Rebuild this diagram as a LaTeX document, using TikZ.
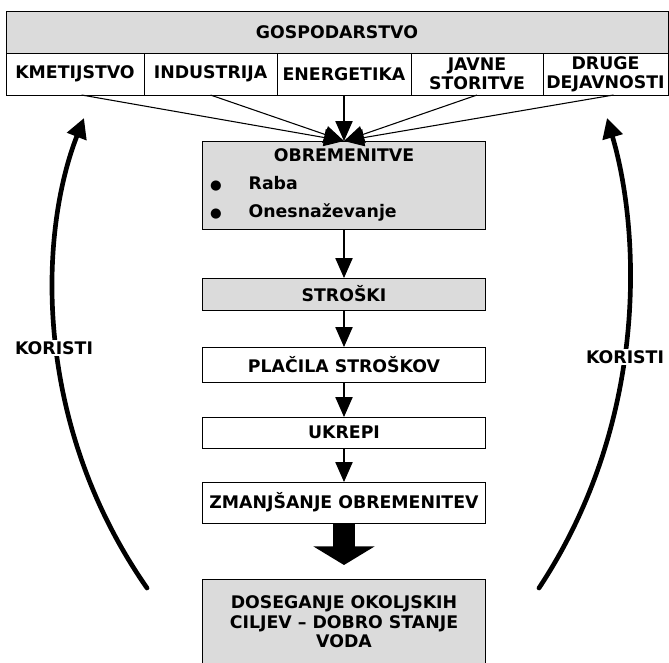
\documentclass[tikz,border=0pt]{standalone}
\usepackage{xcolor}
\usepackage{fontspec}
\setmainfont{DejaVu Sans}
\usepackage{tikz}
\usetikzlibrary{positioning,arrows.meta}
\setlength{\parindent}{0pt}

\tikzset{
  cell/.style={draw, line width=0.7pt, inner sep=0pt, outer sep=0pt, align=center,
    font=\fontsize{13}{14.5}\selectfont\bfseries, minimum height=31.5pt},
  grey/.style={cell, fill=black!14},
  chain/.style={minimum width=212.25pt},
  link/.style={line width=0.8pt, -{Triangle[length=15pt,width=13pt]}},
  benefit/.style={line width=3.5pt, line cap=round, -{Triangle[length=15pt,width=15pt]}},
  gain/.style={fill=white, inner sep=1pt, font=\fontsize{13}{14.5}\selectfont\bfseries},
}

\begin{document}
\begin{tikzpicture}[x=0.75pt, y=-0.75pt]
    \useasboundingbox (0,0) rectangle (669,662);

    \node[grey, minimum width=496.5pt] (gosp) at (337,32) {GOSPODARSTVO};
    \node[cell, minimum width=103.5pt, below right=0pt and 0pt of gosp.south west] (kmet) {KMETIJSTVO};
    \node[cell, minimum width=99.75pt, right=0pt of kmet] (ind) {INDUSTRIJA};
    \node[cell, minimum width=100.5pt, right=0pt of ind] (ener) {ENERGETIKA};
    \node[cell, minimum width=99pt, right=0pt of ener] (javne) {JAVNE\\STORITVE};
    \node[cell, minimum width=93.75pt, right=0pt of javne] (druge) {DRUGE\\DEJAVNOSTI};

    \node[grey, chain, minimum height=66pt, text width=201pt, inner xsep=5.6pt, align=left,
      font=\fontsize{13}{21}\selectfont\bfseries, below=34.5pt of ener] (obr)
      {{\centering OBREMENITVE\par}
       \makebox[29pt][l]{\fontsize{10}{10}\selectfont ●}Raba\\
       \makebox[29pt][l]{\fontsize{10}{10}\selectfont ●}Onesnaževanje};
    \node[grey, chain, minimum height=24pt, below=36.75pt of obr] (stro) {STROŠKI};
    \node[cell, chain, minimum height=26.25pt, below=27.75pt of stro] (plac) {PLAČILA STROŠKOV};
    \node[cell, chain, minimum height=23.25pt, below=26.25pt of plac] (ukrepi) {UKREPI};
    \node[cell, chain, minimum height=30.75pt, below=25.5pt of ukrepi] (zmanj) {ZMANJŠANJE OBREMENITEV};
    \node[grey, chain, minimum height=64.5pt, below=42pt of zmanj] (dos)
      {DOSEGANJE OKOLJSKIH\\CILJEV -- DOBRO STANJE\\VODA};

    \draw[link] ([xshift=5pt]kmet.south) -- (obr.north);
    \draw[link] (ind.south) -- (obr.north);
    \draw[link] (ener.south) -- (obr.north);
    \draw[link] (javne.south) -- (obr.north);
    \draw[link] ([xshift=6pt]druge.south) -- (obr.north);

    \draw[link] (obr) -- (stro);
    \draw[link] (stro) -- (plac);
    \draw[link] (plac) -- (ukrepi);
    \draw[link] (ukrepi) -- (zmanj);
    \draw[line width=16.5pt, -{Triangle[length=14pt,width=45.5pt]}, shorten >=10.5pt] (zmanj) -- (dos);

    \coordinate (lb) at (147,588);
    \coordinate (lt) at (84,118);
    \coordinate (rb) at (539,588);
    \coordinate (rt) at (607,118);
    \draw[benefit] (lb) .. controls (30,420) and (40,230) .. (lt);
    \draw[benefit] (rb) .. controls (650,420) and (640,230) .. (rt);
    \node[gain] (lkor) at (54,348) {KORISTI};
    \node[gain] (rkor) at (625,357) {KORISTI};
\end{tikzpicture}
\end{document}
